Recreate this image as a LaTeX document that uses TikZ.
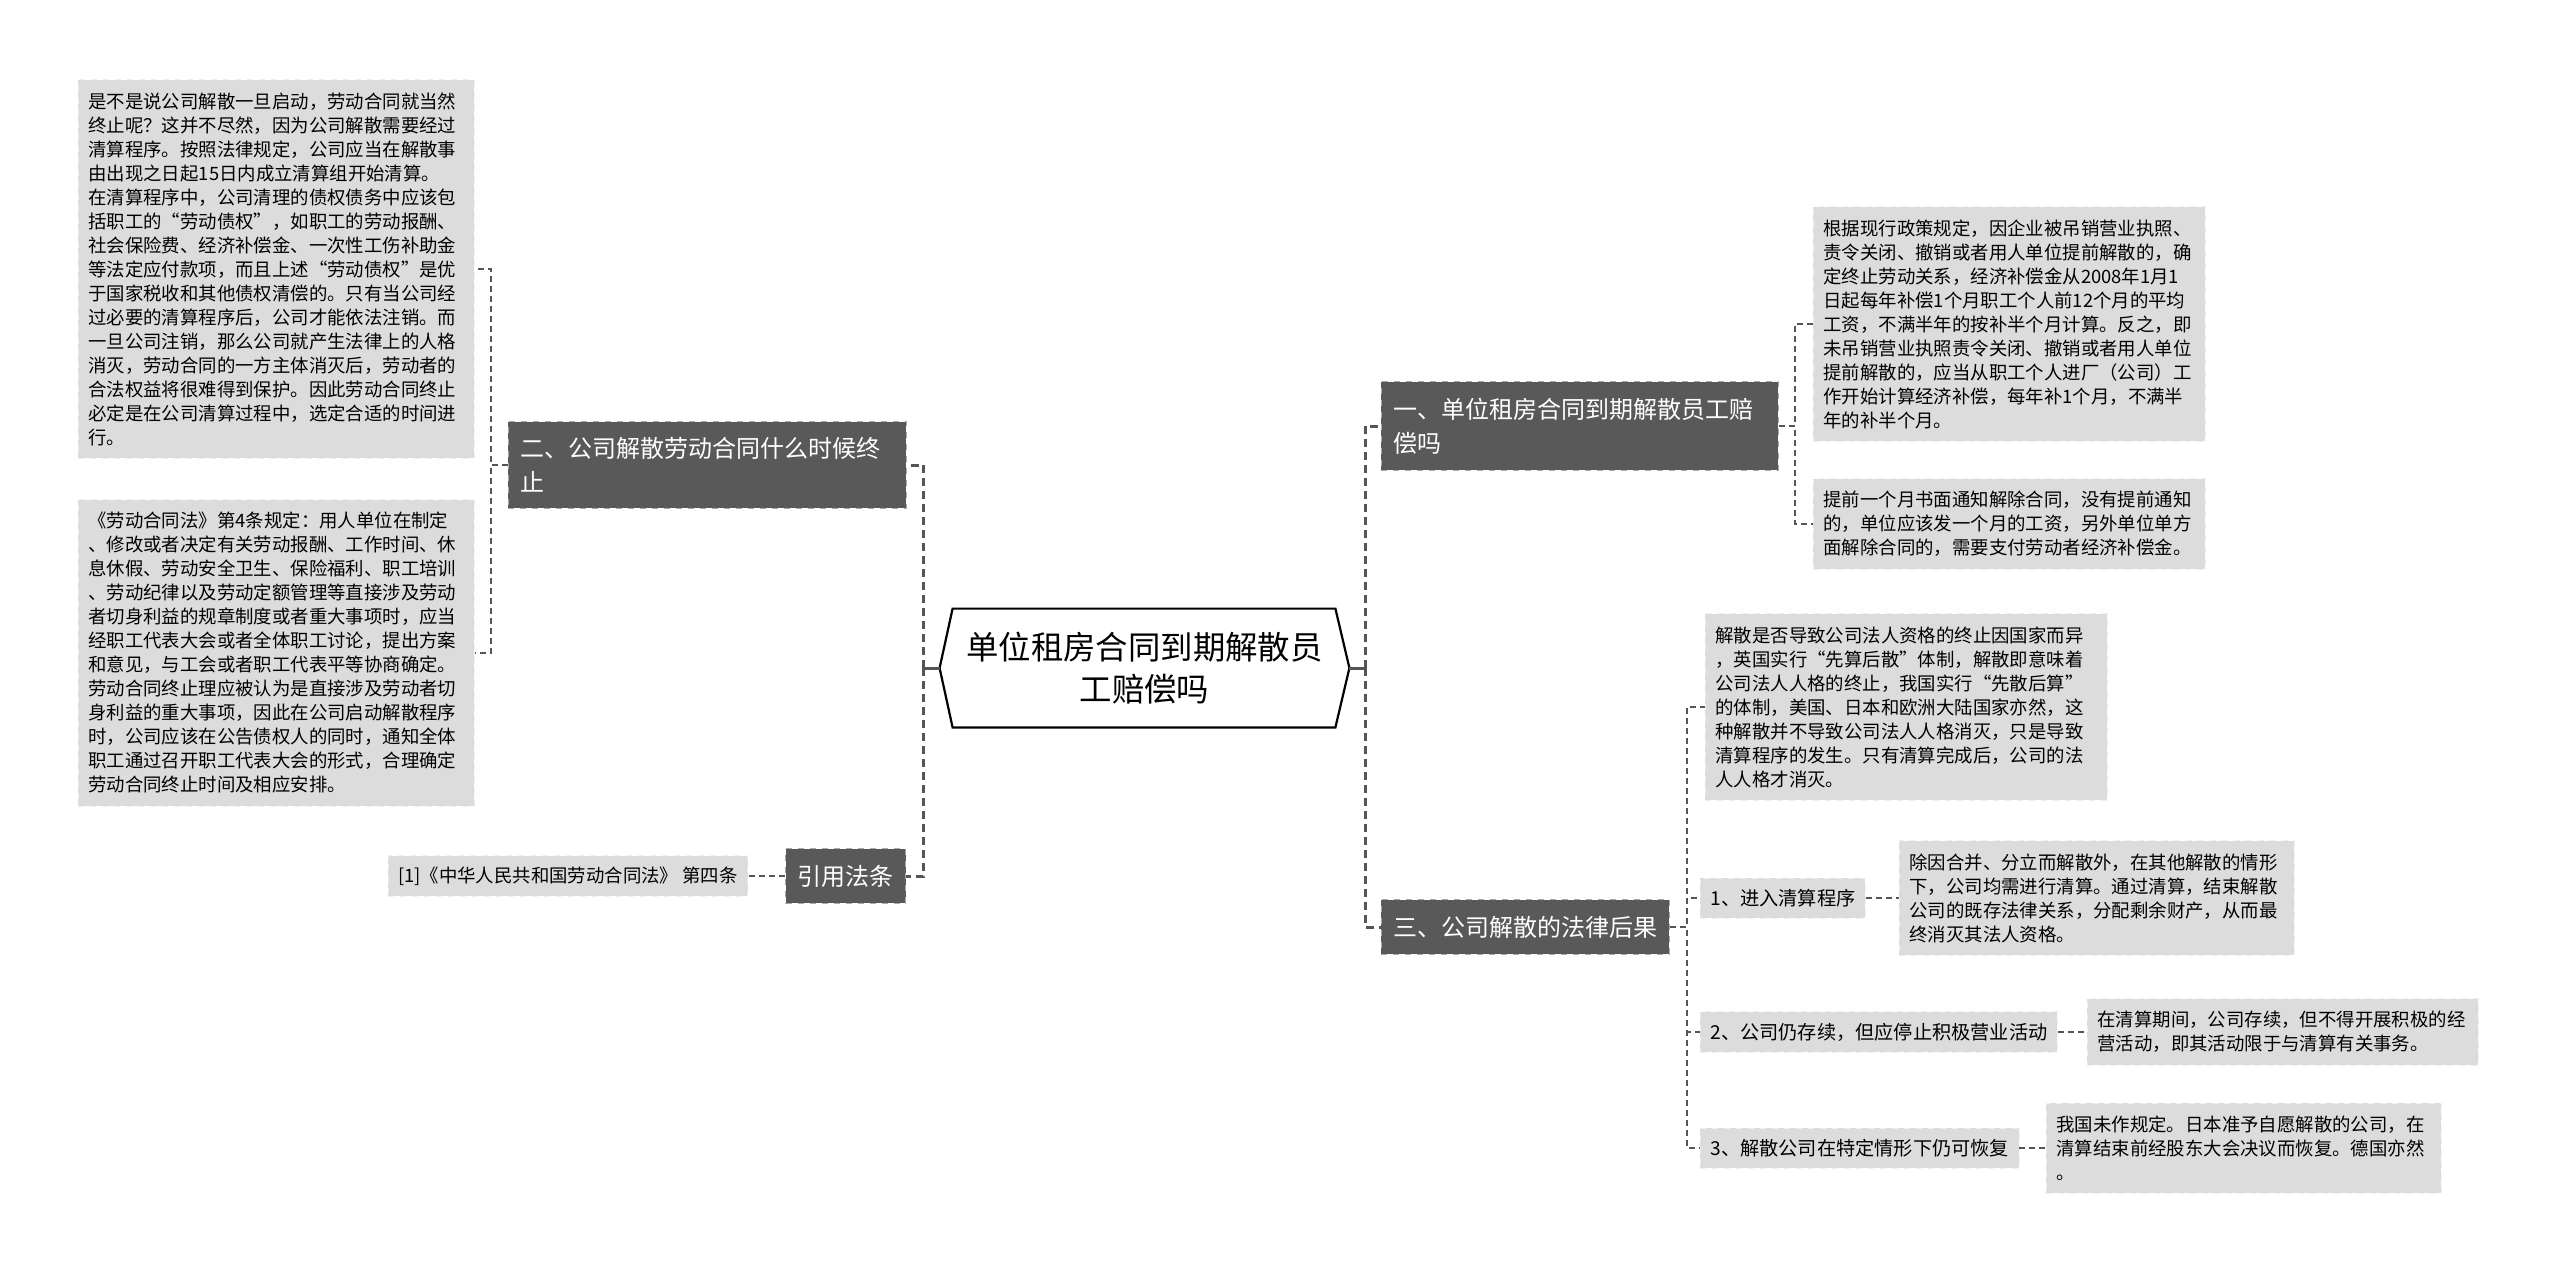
\documentclass[tikz,border=0pt]{standalone}
\usepackage{fontspec}
\setmainfont{Noto Sans CJK SC}
\usepackage{tikz}
\usetikzlibrary{positioning,calc}
\definecolor{Topic_Gray}{HTML}{595959}
\definecolor{Topic_Edge}{HTML}{A8A8A8}
\definecolor{Leaf_Gray}{HTML}{DCDCDC}
\definecolor{Leaf_Edge}{HTML}{EFEFEF}
\definecolor{Line_Gray}{HTML}{555555}
\newcommand{\rootfont}{\fontsize{16.2pt}{21pt}\selectfont}
\newcommand{\topicfont}{\fontsize{12pt}{17pt}\selectfont}
\newcommand{\subtopicfont}{\fontsize{9.6pt}{12pt}\selectfont}
\newcommand{\leaffont}{\fontsize{9.2pt}{12pt}\selectfont}

\begin{document}
\begin{tikzpicture}[x=0.5pt, y=-0.5pt,
    topic/.style={fill=Topic_Gray, draw=Topic_Edge, dashed, text=white, font=\topicfont, inner xsep=6pt, inner ysep=8pt, align=left},
    leaf/.style={fill=Leaf_Gray, draw=Leaf_Edge, dashed, font=\leaffont, inner xsep=5pt, inner ysep=6.3pt, align=left},
    subtopic/.style={leaf, font=\subtopicfont, inner ysep=5.5pt},
    trunk/.style={draw=Line_Gray, line width=1.5pt, dash pattern=on 4pt off 2.5pt},
    twig/.style={draw=Line_Gray, line width=0.7pt, dash pattern=on 3pt off 2pt}]
    \fill[white] (0,0) rectangle (2560,1273);
    \useasboundingbox (0,0) rectangle (2560,1273);

    % Central topic
    \node[font=\rootfont, align=center, minimum width=204.5pt, minimum height=59pt, inner sep=0pt] (root) at (1144.5,668) {单位租房合同到期解散员\\工赔偿吗};
    \draw[line width=1.1pt] (root.west) -- ([xshift=6.5pt]root.north west) -- ([xshift=-7pt]root.north east) -- (root.east) -- ([xshift=-7pt]root.south east) -- ([xshift=6.5pt]root.south west) -- cycle;

    % Left branch: topic two
    \node[topic, text width=187pt, anchor=west] (topic2) at (508,465) {二、公司解散劳动合同什么时候终\\止};
    \node[leaf, text width=188pt, anchor=west] (leaf21) at (78,269) {
        是不是说公司解散一旦启动，劳动合同就当然\\
        终止呢？这并不尽然，因为公司解散需要经过\\
        清算程序。按照法律规定，公司应当在解散事\\
        由出现之日起15日内成立清算组开始清算。\\
        在清算程序中，公司清理的债权债务中应该包\\
        括职工的“劳动债权”，如职工的劳动报酬、\\
        社会保险费、经济补偿金、一次性工伤补助金\\
        等法定应付款项，而且上述“劳动债权”是优\\
        于国家税收和其他债权清偿的。只有当公司经\\
        过必要的清算程序后，公司才能依法注销。而\\
        一旦公司注销，那么公司就产生法律上的人格\\
        消灭，劳动合同的一方主体消灭后，劳动者的\\
        合法权益将很难得到保护。因此劳动合同终止\\
        必定是在公司清算过程中，选定合适的时间进\\
        行。};
    \node[leaf, text width=188pt, anchor=west] (leaf22) at (78,653) {
        《劳动合同法》第4条规定：用人单位在制定\\
        、修改或者决定有关劳动报酬、工作时间、休\\
        息休假、劳动安全卫生、保险福利、职工培训\\
        、劳动纪律以及劳动定额管理等直接涉及劳动\\
        者切身利益的规章制度或者重大事项时，应当\\
        经职工代表大会或者全体职工讨论，提出方案\\
        和意见，与工会或者职工代表平等协商确定。\\
        劳动合同终止理应被认为是直接涉及劳动者切\\
        身利益的重大事项，因此在公司启动解散程序\\
        时，公司应该在公告债权人的同时，通知全体\\
        职工通过召开职工代表大会的形式，合理确定\\
        劳动合同终止时间及相应安排。};

    % Left branch: cited law
    \node[topic, anchor=east] (cite) at (906,876) {引用法条};
    \node[subtopic, font=\leaffont, anchor=east] (law) at (748,876) {[1]《中华人民共和国劳动合同法》 第四条};

    % Right branch: topic one
    \node[topic, text width=186.5pt, anchor=west] (topic1) at (1381,426) {一、单位租房合同到期解散员工赔\\偿吗};
    \node[leaf, text width=186pt, anchor=west] (leaf11) at (1813,324) {
        根据现行政策规定，因企业被吊销营业执照、\\
        责令关闭、撤销或者用人单位提前解散的，确\\
        定终止劳动关系，经济补偿金从2008年1月1\\
        日起每年补偿1个月职工个人前12个月的平均\\
        工资，不满半年的按补半个月计算。反之，即\\
        未吊销营业执照责令关闭、撤销或者用人单位\\
        提前解散的，应当从职工个人进厂（公司）工\\
        作开始计算经济补偿，每年补1个月，不满半\\
        年的补半个月。};
    \node[leaf, text width=186pt, anchor=west] (leaf12) at (1813,524) {
        提前一个月书面通知解除合同，没有提前通知\\
        的，单位应该发一个月的工资，另外单位单方\\
        面解除合同的，需要支付劳动者经济补偿金。};

    % Right branch: topic three
    \node[topic, anchor=west] (topic3) at (1381,927) {三、公司解散的法律后果};
    \node[leaf, text width=191pt, anchor=west] (leaf31) at (1705,707) {
        解散是否导致公司法人资格的终止因国家而异\\
        ，英国实行“先算后散”体制，解散即意味着\\
        公司法人人格的终止，我国实行“先散后算”\\
        的体制，美国、日本和欧洲大陆国家亦然，这\\
        种解散并不导致公司法人人格消灭，只是导致\\
        清算程序的发生。只有清算完成后，公司的法\\
        人人格才消灭。};
    \node[subtopic, anchor=west] (sub1) at (1700,898) {1、进入清算程序};
    \node[leaf, text width=187.5pt, anchor=west] (leaf32) at (1899,898) {
        除因合并、分立而解散外，在其他解散的情形\\
        下，公司均需进行清算。通过清算，结束解散\\
        公司的既存法律关系，分配剩余财产，从而最\\
        终消灭其法人资格。};
    \node[subtopic, anchor=west] (sub2) at (1700,1032) {2、公司仍存续，但应停止积极营业活动};
    \node[leaf, text width=185.5pt, anchor=west] (leaf33) at (2087,1032) {
        在清算期间，公司存续，但不得开展积极的经\\
        营活动，即其活动限于与清算有关事务。};
    \node[subtopic, anchor=west] (sub3) at (1700,1148) {3、解散公司在特定情形下仍可恢复};
    \node[leaf, text width=187.5pt, anchor=west] (leaf34) at (2046,1148) {
        我国未作规定。日本准予自愿解散的公司，在\\
        清算结束前经股东大会决议而恢复。德国亦然\\
        。};

    % Trunk connectors from the central topic
    \coordinate (lj) at ([xshift=-8pt]root.west);
    \coordinate (rj) at ([xshift=8pt]root.east);
    \draw[Line_Gray, line width=1.5pt] (root.west) -- (lj);
    \draw[Line_Gray, line width=1.5pt] (root.east) -- (rj);
    \draw[trunk] (lj) |- (topic2.east);
    \draw[trunk] (lj) |- (cite.east);
    \draw[trunk] (rj) |- (topic1.west);
    \draw[trunk] (rj) |- (topic3.west);

    % Twig connectors
    \draw[twig] (topic2.west) -- ++(-17,0) |- (leaf21.east);
    \draw[twig] (topic2.west) -- ++(-17,0) |- (leaf22.east);
    \draw[twig] (cite.west) -- (law.east);
    \draw[twig] (topic1.east) -- ++(16,0) |- (leaf11.west);
    \draw[twig] (topic1.east) -- ++(16,0) |- (leaf12.west);
    \draw[twig] (topic3.east) -- ++(17,0) |- (leaf31.west);
    \draw[twig] (topic3.east) -- ++(17,0) |- (sub1.west);
    \draw[twig] (topic3.east) -- ++(17,0) |- (sub2.west);
    \draw[twig] (topic3.east) -- ++(17,0) |- (sub3.west);
    \draw[twig] (sub1.east) -- (leaf32.west);
    \draw[twig] (sub2.east) -- (leaf33.west);
    \draw[twig] (sub3.east) -- (leaf34.west);

\end{tikzpicture}
\end{document}
